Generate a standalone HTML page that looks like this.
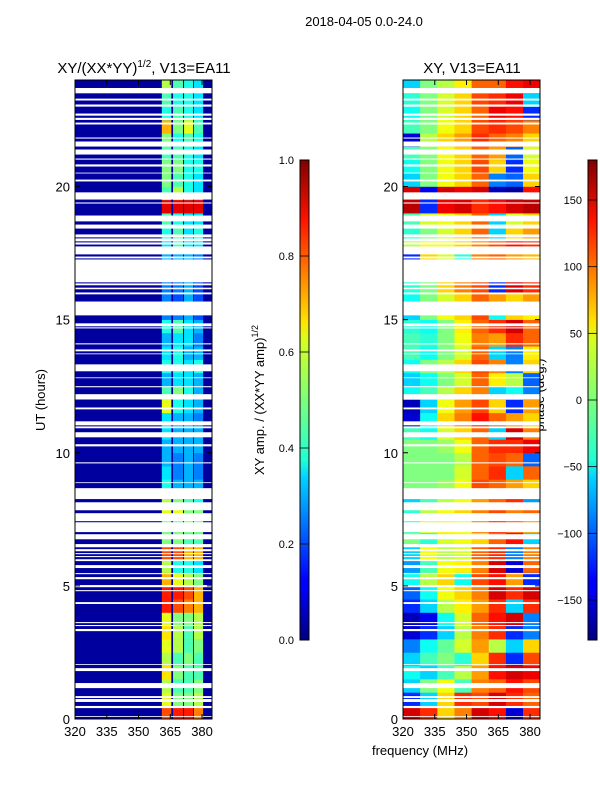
<!DOCTYPE html>
<html><head><meta charset="utf-8">
<style>
body{margin:0;background:#fff;}
svg text{font-family:"Liberation Sans","DejaVu Sans",sans-serif;fill:#000;}
</style></head>
<body>
<svg id="fig" width="600" height="800" viewBox="0 0 600 800" xmlns="http://www.w3.org/2000/svg">
<defs>
<linearGradient id="jet" x1="0" y1="1" x2="0" y2="0">
<stop offset="0" stop-color="#00007f"/><stop offset="0.11" stop-color="#0000ff"/>
<stop offset="0.125" stop-color="#0000ff"/><stop offset="0.34" stop-color="#00d4ff"/>
<stop offset="0.375" stop-color="#21ffd4"/><stop offset="0.5" stop-color="#7dff7a"/>
<stop offset="0.625" stop-color="#d4ff21"/><stop offset="0.66" stop-color="#ffe500"/>
<stop offset="0.875" stop-color="#ff1300"/><stop offset="1" stop-color="#7f0000"/>
</linearGradient>
</defs>
<text x="364" y="26" font-size="13" text-anchor="middle">2018-04-05 0.0-24.0</text>
<text x="144" y="73" font-size="15" text-anchor="middle">XY/(XX*YY)<tspan font-size="10" dy="-6">1/2</tspan><tspan dy="6">, V13=EA11</tspan></text>
<text x="472" y="73" font-size="15" text-anchor="middle">XY, V13=EA11</text>
<text x="45" y="400" font-size="13" text-anchor="middle" transform="rotate(-90 45 400)">UT (hours)</text>
<text x="420" y="755" font-size="13" text-anchor="middle">frequency (MHz)</text>
<text x="264" y="400" font-size="13" text-anchor="middle" transform="rotate(-90 264 400)">XY amp. / (XX*YY amp)<tspan font-size="9" dy="-6">1/2</tspan></text>
<text x="544" y="395" font-size="13" text-anchor="middle" transform="rotate(-90 544 395)">phase (deg.)</text>
<g id="left"></g><g id="right"></g><g id="cbars"></g>
</svg>
<script>
const gaps=[[23.5,23.7],[23.23,23.3],[23.0,23.08],[22.66,22.74],[22.5,22.58],[22.33,22.4],[21.8,21.84],[21.5,21.69],[21.2,21.39],[21.01,21.05],[20.75,20.83],[20.49,20.52],[20.19,20.26],[19.51,19.78],[19.36,19.4],[18.69,18.91],[18.42,18.57],[18.09,18.2],[17.94,18.05],[17.82,17.9],[17.45,17.75],[17.3,17.37],[16.4,17.26],[16.29,16.36],[16.14,16.2],[15.95,16.02],[15.16,15.68],[14.75,14.86],[14.67,14.71],[14.07,14.11],[13.81,13.88],[13.7,13.73],[13.06,13.32],[12.8,12.83],[12.46,12.5],[12.0,12.2],[11.63,11.7],[11.03,11.18],[10.92,10.99],[10.58,10.77],[10.24,10.32],[9.6,9.64],[8.86,8.89],[8.26,8.67],[7.84,8.14],[7.43,7.73],[7.02,7.39],[6.75,6.94],[6.45,6.57],[6.3,6.38],[6.19,6.23],[6.08,6.12],[5.93,6.0],[5.67,5.78],[5.44,5.48],[5.25,5.33],[4.95,5.03],[4.8,4.84],[4.32,4.39],[3.6,3.64],[3.49,3.53],[3.3,3.38],[2.03,2.06],[1.8,1.91],[1.16,1.35],[0.79,0.86],[0.64,0.75],[0.41,0.49],[0.08,0.11]];
const ampBands=[[361,365.5],[366.3,371],[371.5,375.8],[376.2,380.5]];
const ampBackground=0.03;
const amp=[[0.8,0.85,0.85,0.75],[0.6,0.5,0.5,0.55],[0.55,0.45,0.45,0.5],[0.65,0.5,0.45,0.45],[0.55,0.45,0.5,0.45],[0.6,0.55,0.45,0.5],[0.65,0.55,0.45,0.55],[0.6,0.5,0.5,0.55],[0.85,0.8,0.75,0.7],[0.85,0.85,0.8,0.7],[0.7,0.6,0.55,0.5],[0.55,0.4,0.4,0.35],[0.8,0.8,0.7,0.7],[0.5,0.5,0.45,0.45],[0.5,0.5,0.5,0.5],[0.6,0.6,0.5,0.5],[0.55,0.5,0.45,0.4],[0.4,0.3,0.3,0.3],[0.35,0.25,0.3,0.25],[0.3,0.25,0.3,0.25],[0.3,0.3,0.3,0.3],[0.35,0.3,0.3,0.3],[0.35,0.3,0.3,0.25],[0.6,0.4,0.35,0.3],[0.45,0.5,0.4,0.3],[0.3,0.35,0.35,0.3],[0.4,0.4,0.35,0.4],[0.35,0.4,0.3,0.3],[0.3,0.35,0.35,0.25],[0.4,0.45,0.35,0.3],[0.25,0.25,0.3,0.2],[0.25,0.2,0.3,0.2],[0.25,0.25,0.3,0.2],[0.25,0.25,0.3,0.2],[0.3,0.3,0.3,0.25],[0.35,0.45,0.35,0.35],[0.4,0.45,0.35,0.4],[0.45,0.4,0.35,0.35],[0.9,0.9,0.9,0.9],[0.45,0.55,0.4,0.35],[0.5,0.45,0.4,0.35],[0.5,0.5,0.4,0.4],[0.45,0.45,0.4,0.35],[0.5,0.4,0.45,0.4],[0.7,0.5,0.6,0.45],[0.4,0.45,0.4,0.35],[0.45,0.4,0.4,0.35],[0.55,0.45,0.4,0.35]];
const phaseCols=[320,328.1,336.2,344.3,352.4,360.5,368.6,376.7,384.7];
const phase=[[150,120,60,90,150,130,-150,120],[-120,-60,60,120,110,150,120,100],[-60,0,40,-20,90,100,130,110],[-40,-60,-20,20,80,130,150,140],[-60,-20,0,-30,60,120,-120,110],[-90,-40,-10,30,80,20,-60,60],[-150,-120,-60,20,90,120,-120,-90],[-160,-140,-40,30,100,130,150,-90],[-120,-60,20,50,80,120,-60,120],[-100,-40,40,60,90,150,120,150],[-40,20,60,-40,110,130,80,-120],[-80,-20,40,50,90,150,-150,100],[-60,40,20,30,100,120,-90,90],[0,-30,30,40,60,100,130,-60],[-20,30,50,40,90,120,100,80],[-30,20,40,60,90,110,90,100],[-60,-20,20,40,80,100,120,-80],[0,0,10,40,110,100,80,60],[0,0,0,30,100,120,-60,100],[0,0,0,20,100,110,100,-100],[0,0,10,40,100,120,120,140],[-20,-40,30,60,100,-60,150,90],[-150,-40,60,90,130,100,80,60],[-160,-60,40,80,110,60,-120,80],[-40,-20,20,60,90,-60,-40,-90],[-60,-40,0,30,100,50,20,-100],[-40,0,20,60,110,90,-90,60],[-20,-40,0,30,100,-60,-90,50],[-20,-30,0,40,90,80,120,100],[-30,-40,0,50,100,120,150,100],[-60,0,40,60,110,-40,60,50],[-40,0,30,60,100,80,60,80],[-30,0,60,90,110,-120,150,120],[0,20,40,60,90,80,70,60],[-120,60,30,-30,90,100,80,70],[20,40,40,60,90,110,130,120],[-30,0,30,60,100,-60,60,80],[-20,30,40,60,100,-60,30,60],[160,-120,140,150,120,130,150,160],[150,-140,150,140,150,-160,-170,130],[-60,0,40,60,100,-90,-100,60],[-40,0,40,60,110,60,-120,40],[-20,0,40,60,100,80,-100,30],[-150,20,60,80,120,100,90,60],[-20,0,40,60,110,120,110,90],[-40,0,30,60,100,140,130,-120],[-30,0,30,60,110,120,140,-60],[-60,0,20,50,100,100,130,140]];
const xTicks=[320,335,350,365,380];
const yTicks=[0,5,10,15,20];
const ampTicks=[0.0,0.2,0.4,0.6,0.8,1.0];
const phaseTicks=[-150,-100,-50,0,50,100,150];

const NS='http://www.w3.org/2000/svg';
function jet(t){t=Math.max(0,Math.min(1,t));const c=v=>Math.round(255*Math.max(0,Math.min(1,v)));
return 'rgb('+c(1.5-Math.abs(4*t-3))+','+c(1.5-Math.abs(4*t-2))+','+c(1.5-Math.abs(4*t-1))+')';}
function mk(parent,tag,attrs){const e=document.createElementNS(NS,tag);for(const k in attrs)e.setAttribute(k,attrs[k]);parent.appendChild(e);return e;}
const Y0=719,Y1=80,F0=320,F1=384.7;
const yS=h=>Y0-(h/24)*(Y0-Y1);
function xS(x0,x1){return f=>x0+(f-F0)/(F1-F0)*(x1-x0);}
const dh=0.5;

function axes(g,x0,x1,name){
  const x=xS(x0,x1);
  return x;
}
function frame(g,x0,x1,name){
  const x=xS(x0,x1);
  gaps.forEach(([a,b])=>{const r=mk(g,'rect',{x:x0,y:yS(b),width:x1-x0,height:yS(a)-yS(b),fill:'#fff'});

});
  const fr=mk(g,'rect',{x:x0,y:Y1,width:x1-x0,height:Y0-Y1,fill:'none',stroke:'#000','stroke-width':1});


  xTicks.forEach(v=>{const px=x(v);
    mk(g,'line',{x1:px,x2:px,y1:Y0,y2:Y0-5,stroke:'#000'});mk(g,'line',{x1:px,x2:px,y1:Y1,y2:Y1+5,stroke:'#000'});
    const t=mk(g,'text',{x:px,y:Y0+17,'font-size':13,'text-anchor':'middle'});t.textContent=v;

});
  yTicks.forEach(v=>{const py=yS(v);
    mk(g,'line',{x1:x0,x2:x0+5,y1:py,y2:py,stroke:'#000'});mk(g,'line',{x1:x1,x2:x1-5,y1:py,y2:py,stroke:'#000'});
    const t=mk(g,'text',{x:x0-5,y:py+5,'font-size':13,'text-anchor':'end'});t.textContent=v;

});
}
// left amplitude panel
(function(){
  const g=document.getElementById('left');const x0=75,x1=212;const x=xS(x0,x1);
  const bg=mk(g,'rect',{x:x0,y:Y1,width:x1-x0,height:Y0-Y1,fill:jet(ampBackground)});


  amp.forEach((row,r)=>{row.forEach((v,b)=>{const [f0,f1]=ampBands[b];
    const c=mk(g,'rect',{x:x(f0),y:yS((r+1)*dh),width:x(f1)-x(f0),height:yS(r*dh)-yS((r+1)*dh)+0.3,fill:jet(v)});

});});
  frame(g,x0,x1,'amp');
})();
// right phase panel
(function(){
  const g=document.getElementById('right');const x0=403,x1=540;const x=xS(x0,x1);
  phase.forEach((row,r)=>{row.forEach((v,c)=>{
    const e=mk(g,'rect',{x:x(phaseCols[c]),y:yS((r+1)*dh),width:x(phaseCols[c+1])-x(phaseCols[c])+0.3,height:yS(r*dh)-yS((r+1)*dh)+0.3,fill:jet((v+180)/360)});

});});
  frame(g,x0,x1,'phase');
})();
// colorbars
(function(){
  const g=document.getElementById('cbars');const cy0=640,cy1=160;
  function cbar(cx,lo,hi,ticks,name,fmt){
    const r=mk(g,'rect',{x:cx,y:cy1,width:9,height:cy0-cy1,fill:'url(#jet)',stroke:'#000','stroke-width':1});


    ticks.forEach(v=>{const py=cy0-(v-lo)/(hi-lo)*(cy0-cy1);
      mk(g,'line',{x1:cx,x2:cx+9,y1:py,y2:py,stroke:'#000','stroke-width':0.8});
      const t=mk(g,'text',{x:cx-6,y:py+4,'font-size':11,'text-anchor':'end'});t.textContent=fmt(v);

});
  }
  cbar(300,0,1,ampTicks,'amp-colorbar',v=>v.toFixed(1));
  cbar(588,-180,180,phaseTicks,'phase-colorbar',v=>v<0?'\u2212'+(-v):''+v);
})();
</script>
</body></html>
